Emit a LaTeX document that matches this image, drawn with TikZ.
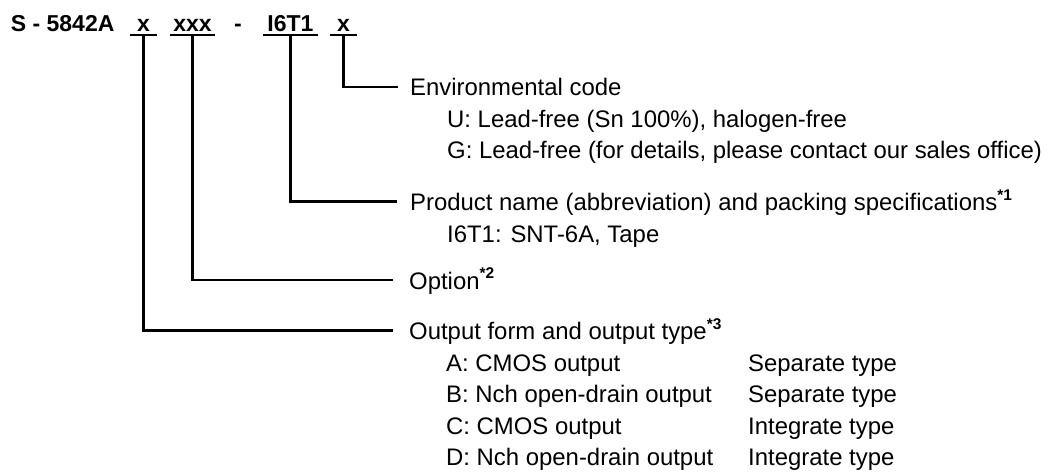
\documentclass[tikz,border=0pt]{standalone}
\usepackage{fontspec}
\setmainfont{Liberation Sans}

\newcommand\notemark[1]{\raisebox{10.5pt}{\fontsize{15.5}{15.5}\selectfont\bfseries *#1}}

\begin{document}
\begin{tikzpicture}[x=1pt,y=-1pt,
  every node/.style={inner sep=0pt,font=\fontsize{23.9}{28}\selectfont},
  part/.style={anchor=base,font=\fontsize{23}{28}\selectfont\bfseries,
    minimum width=#1,text depth=3pt},
  item/.style={anchor=base west},
  lead/.style={line width=2.2pt}
]
\fill[white] (0,0) rectangle (1048,471);
\useasboundingbox (0,0) rectangle (1048,471);

\node[anchor=base west,font=\fontsize{23}{28}\selectfont\bfseries] (model) at (10.7,31.7) {S - 5842A};
\node[part=26] (form) at (143.5,31.7) {x};
\node[part=44] (opt) at (192.5,31.7) {xxx};
\node[anchor=base,font=\fontsize{23}{28}\selectfont\bfseries] (dash) at (238,31.7) {-};
\node[part=55] (pkg) at (290.5,31.7) {I6T1};
\node[part=27] (env) at (343.5,31.7) {x};

\foreach \p in {form,opt,pkg,env}
  \draw[lead] (\p.south west) -- (\p.south east);

\node[item] (envlbl) at (410,95.7) {Environmental code};
\node[item] (envu) at (447,127.2) {U: Lead-free (Sn 100\%), halogen-free};
\node[item] (envg) at (447,158.7) {G: Lead-free (for details, please contact our sales office)};

\node[item] (pkglbl) at (410,210.5) {Product name (abbreviation) and packing specifications\notemark{1}};
\node[item] (pkgi) at (447,242) {I6T1: SNT-6A, Tape};

\node[item] (optlbl) at (409,289) {Option\notemark{2}};

\node[item] (formlbl) at (409,339.5) {Output form and output type\notemark{3}};
\node[item] (forma) at (446,371) {A: CMOS output};
\node[item] (formb) at (446,402.5) {B: Nch open-drain output};
\node[item] (formc) at (446,434) {C: CMOS output};
\node[item] (formd) at (446,465.5) {D: Nch open-drain output};
\node[item] (typea) at (748,371) {Separate type};
\node[item] (typeb) at (748,402.5) {Separate type};
\node[item] (typec) at (748,434) {Integrate type};
\node[item] (typed) at (748,465.5) {Integrate type};

\draw[lead] (env.south) |- ([shift={(-12pt,9pt)}]envlbl.base west);
\draw[lead] (pkg.south) |- ([shift={(-13pt,9pt)}]pkglbl.base west);
\draw[lead] (opt.south) |- ([shift={(-16pt,9pt)}]optlbl.base west);
\draw[lead] (form.south) |- ([shift={(-16pt,9pt)}]formlbl.base west);

\end{tikzpicture}
\end{document}
